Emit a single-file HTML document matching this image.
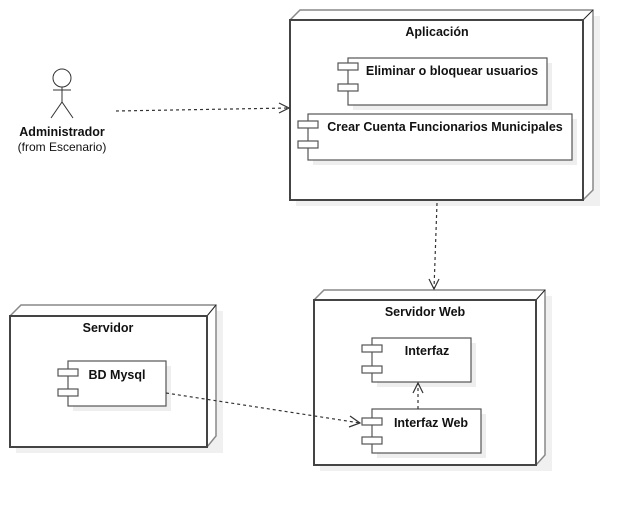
<!DOCTYPE html>
<html><head><meta charset="utf-8"><style>
html,body{margin:0;padding:0;background:#fff;width:634px;height:506px;overflow:hidden}
text{font-family:"Liberation Sans",sans-serif;font-size:12.5px;fill:#111}
.b{font-weight:bold}
</style></head><body>
<svg width="634" height="506" viewBox="0 0 634 506" xmlns="http://www.w3.org/2000/svg">
<defs>
<g id="tab"><rect x="0" y="0" width="20" height="7" fill="#fff" stroke="#555" stroke-width="1.2"/></g>
</defs>
<!-- Aplicacion node -->
<rect x="296" y="16" width="304" height="190" fill="#f0f0f0"/>
<polygon points="290,20 300,10 593,10 593,190 583,200 290,200" fill="#fff" stroke="#888" stroke-width="1.5"/>
<line x1="583" y1="20" x2="593" y2="10" stroke="#222"/>
<rect x="290" y="20" width="293" height="180" fill="#fff" stroke="#444" stroke-width="2"/>
<text class="b" x="437" y="36" text-anchor="middle">Aplicación</text>
<rect x="353" y="63" width="199" height="47" fill="#eee"/>
<rect x="348" y="58" width="199" height="47" fill="#fff" stroke="#555" stroke-width="1.2"/>
<use href="#tab" x="338" y="63"/><use href="#tab" x="338" y="84"/>
<text class="b" x="452" y="75" text-anchor="middle">Eliminar o bloquear usuarios</text>
<rect x="313" y="119" width="264" height="46" fill="#eee"/>
<rect x="308" y="114" width="264" height="46" fill="#fff" stroke="#555" stroke-width="1.2"/>
<use href="#tab" x="298" y="121"/><use href="#tab" x="298" y="141"/>
<text class="b" x="445" y="131" text-anchor="middle">Crear Cuenta Funcionarios Municipales</text>

<!-- Servidor node -->
<rect x="16" y="311" width="207" height="142" fill="#f0f0f0"/>
<polygon points="10,316 21,305 216,305 216,436 207,447 10,447" fill="#fff" stroke="#888" stroke-width="1.5"/>
<line x1="207" y1="316" x2="216" y2="305" stroke="#222"/>
<rect x="10" y="316" width="197" height="131" fill="#fff" stroke="#444" stroke-width="2"/>
<text class="b" x="108" y="332" text-anchor="middle">Servidor</text>
<rect x="73" y="366" width="98" height="45" fill="#eee"/>
<rect x="68" y="361" width="98" height="45" fill="#fff" stroke="#555" stroke-width="1.2"/>
<use href="#tab" x="58" y="369"/><use href="#tab" x="58" y="389"/>
<text class="b" x="117" y="379" text-anchor="middle">BD Mysql</text>

<!-- Servidor Web node -->
<rect x="320" y="296" width="232" height="175" fill="#f0f0f0"/>
<polygon points="314,300 324,290 545,290 545,455 536,465 314,465" fill="#fff" stroke="#888" stroke-width="1.5"/>
<line x1="536" y1="300" x2="545" y2="290" stroke="#222"/>
<rect x="314" y="300" width="222" height="165" fill="#fff" stroke="#444" stroke-width="2"/>
<text class="b" x="425" y="316" text-anchor="middle">Servidor Web</text>
<rect x="377" y="343" width="99" height="44" fill="#eee"/>
<rect x="372" y="338" width="99" height="44" fill="#fff" stroke="#555" stroke-width="1.2"/>
<use href="#tab" x="362" y="345"/><use href="#tab" x="362" y="366"/>
<text class="b" x="427" y="355" text-anchor="middle">Interfaz</text>
<rect x="377" y="414" width="109" height="44" fill="#eee"/>
<rect x="372" y="409" width="109" height="44" fill="#fff" stroke="#555" stroke-width="1.2"/>
<use href="#tab" x="362" y="418"/><use href="#tab" x="362" y="437"/>
<text class="b" x="431" y="427" text-anchor="middle">Interfaz Web</text>

<!-- actor -->
<circle cx="62" cy="78" r="9" fill="#fff" stroke="#333"/>
<line x1="62" y1="87" x2="62" y2="102" stroke="#333"/>
<line x1="53" y1="90" x2="71" y2="90" stroke="#333"/>
<line x1="62" y1="102" x2="51" y2="118" stroke="#333"/>
<line x1="62" y1="102" x2="73" y2="118" stroke="#333"/>
<text class="b" x="62" y="136" text-anchor="middle">Administrador</text>
<text x="62" y="151" text-anchor="middle" style="font-size:12px">(from Escenario)</text>

<!-- connectors -->
<g stroke="#333" stroke-width="1.2" fill="none">
<line x1="116" y1="111" x2="289" y2="108" stroke-dasharray="3,3"/>
<polyline points="279,103 289,108 279,113"/>
<line x1="437" y1="203" x2="434" y2="289" stroke-dasharray="3,3"/>
<polyline points="429,279 434,289 439,279"/>
<line x1="166" y1="393" x2="360" y2="423" stroke-dasharray="3,3"/>
<polyline points="350,416 360,423 349,427"/>
<line x1="418" y1="409" x2="418" y2="383" stroke-dasharray="3,3"/>
<polyline points="413,393 418,383 423,393"/>
</g>
</svg>
</body></html>
